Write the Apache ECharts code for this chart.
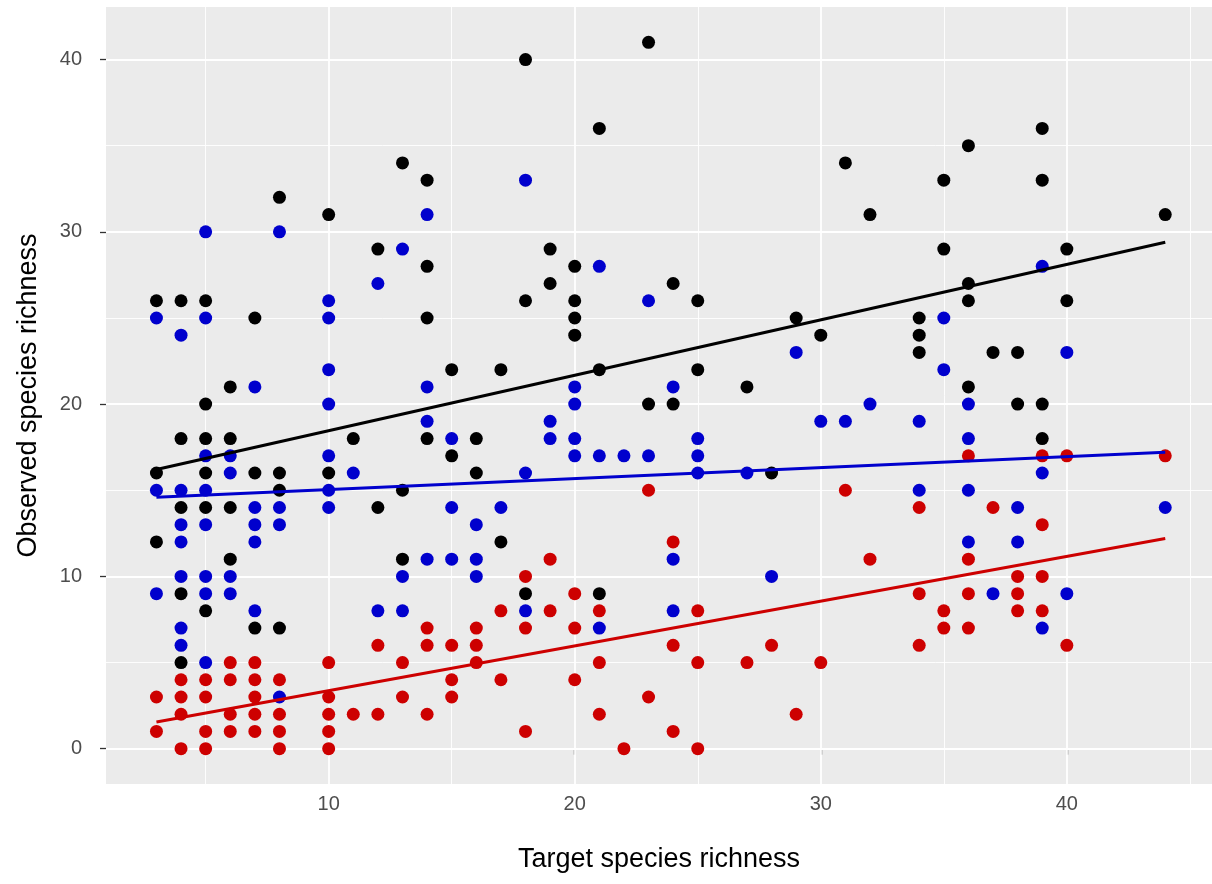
<!DOCTYPE html>
<html>
<head>
<meta charset="utf-8">
<script src="https://cdn.jsdelivr.net/npm/echarts@6/dist/echarts.min.js"></script>
<style>
  html, body { margin: 0; padding: 0; background: #ffffff; }
  #chart { width: 1212px; height: 884px; }
</style>
</head>
<body>
<div id="chart"></div>
<script>
// Axis breaks
const xTicks = [10, 20, 30, 40];
const yTicks = [0, 10, 20, 30, 40];
const xMinorTicks = [5, 15, 25, 35, 45];
const yMinorTicks = [5, 15, 25, 35];

// Observed richness per plot: [target richness, observed richness]
const blackPoints = [
  [3,26],[3,16],[3,12],
  [4,26],[4,18],[4,14],[4,9],[4,5],
  [5,26],[5,20],[5,18],[5,16],[5,14],[5,8],
  [6,21],[6,18],[6,14],[6,11],
  [7,25],[7,16],[7,7],
  [8,32],[8,16],[8,15],[8,7],
  [10,31],[10,16],
  [11,18],
  [12,29],[12,14],
  [13,34],[13,15],[13,11],
  [14,33],[14,28],[14,25],[14,18],
  [15,22],[15,17],
  [16,18],[16,16],
  [17,22],[17,12],
  [18,40],[18,26],[18,9],
  [19,29],[19,27],
  [20,28],[20,26],[20,25],[20,24],
  [21,36],[21,22],[21,9],
  [23,41],[23,20],
  [24,27],[24,20],
  [25,26],[25,22],
  [27,21],[28,16],[29,25],[30,24],[31,34],[32,31],
  [34,25],[34,24],[34,23],
  [35,33],[35,29],
  [36,35],[36,27],[36,26],[36,21],
  [37,23],
  [38,23],[38,20],
  [39,36],[39,33],[39,20],[39,18],
  [40,29],[40,26],
  [44,31]
];

const bluePoints = [
  [3,25],[3,15],[3,9],
  [4,24],[4,15],[4,13],[4,12],[4,10],[4,7],[4,6],
  [5,30],[5,25],[5,17],[5,15],[5,13],[5,10],[5,9],[5,5],
  [6,17],[6,16],[6,10],[6,9],
  [7,21],[7,14],[7,13],[7,12],[7,8],
  [8,30],[8,14],[8,13],[8,3],
  [10,26],[10,25],[10,22],[10,20],[10,17],[10,15],[10,14],
  [11,16],
  [12,27],[12,8],
  [13,29],[13,10],[13,8],
  [14,31],[14,21],[14,19],[14,11],
  [15,18],[15,14],[15,11],
  [16,13],[16,11],[16,10],
  [17,14],
  [18,33],[18,16],[18,8],
  [19,19],[19,18],
  [20,21],[20,20],[20,18],[20,17],
  [21,28],[21,17],[21,7],
  [22,17],
  [23,26],[23,17],
  [24,21],[24,11],[24,8],
  [25,18],[25,17],[25,16],
  [27,16],[28,10],[29,23],[30,19],[31,19],[32,20],
  [34,19],[34,15],
  [35,25],[35,22],
  [36,20],[36,18],[36,15],[36,12],
  [37,9],
  [38,14],[38,12],
  [39,28],[39,16],[39,7],
  [40,23],[40,9],
  [44,14]
];

const redPoints = [
  [3,3],[3,1],
  [4,4],[4,3],[4,2],[4,0],
  [5,4],[5,3],[5,1],[5,0],
  [6,5],[6,4],[6,2],[6,1],
  [7,5],[7,4],[7,3],[7,2],[7,1],
  [8,4],[8,2],[8,1],[8,0],
  [10,5],[10,3],[10,2],[10,1],[10,0],
  [11,2],
  [12,6],[12,2],
  [13,5],[13,3],
  [14,7],[14,6],[14,2],
  [15,6],[15,4],[15,3],
  [16,7],[16,6],[16,5],
  [17,8],[17,4],
  [18,10],[18,7],[18,1],
  [19,11],[19,8],
  [20,9],[20,7],[20,4],
  [21,8],[21,5],[21,2],
  [22,0],
  [23,15],[23,3],
  [24,12],[24,6],[24,1],
  [25,8],[25,5],[25,0],
  [27,5],[28,6],[29,2],[30,5],[31,15],[32,11],
  [34,14],[34,9],[34,6],
  [35,8],[35,7],
  [36,17],[36,11],[36,9],[36,7],
  [37,14],
  [38,10],[38,9],[38,8],
  [39,17],[39,13],[39,10],[39,8],
  [40,17],[40,6],
  [44,17]
];

// Linear trend lines, endpoints at the ends of the target range
const blackTrend = [[3, 16.2], [44, 29.4]];
const blueTrend = [[3, 14.6], [44, 17.2]];
const redTrend = [[3, 1.55], [44, 12.2]];

const BLACK = '#000000';
const BLUE = '#0000cd';
const RED = '#cd0000';
const FONT = '"Liberation Sans", Arial, sans-serif';

const chart = echarts.init(document.getElementById('chart'), null, { renderer: 'canvas' });

function gridLines(axisKey, values, width) {
  return values.map(v => ({ [axisKey]: v, lineStyle: { color: '#ffffff', width: width, type: 'solid' } }));
}

function scatter(name, data, color) {
  return {
    name: name,
    type: 'scatter',
    data: data,
    symbol: 'circle',
    symbolSize: 13,
    itemStyle: { color: color, opacity: 1 },
    z: 3,
    silent: true,
    animation: false
  };
}

function trend(name, data, color) {
  return {
    name: name,
    type: 'line',
    data: data,
    showSymbol: false,
    symbol: 'none',
    lineStyle: { color: color, width: 3 },
    z: 5,
    silent: true,
    animation: false
  };
}

const option = {
  backgroundColor: '#ffffff',
  animation: false,
  textStyle: { fontFamily: FONT },
  grid: {
    left: 106, right: 0, top: 7, bottom: 100,
    show: true, backgroundColor: '#ebebeb', borderWidth: 0
  },
  xAxis: {
    type: 'value',
    min: 0.95, max: 45.9,
    axisLine: { show: false },
    axisTick: { show: true, customValues: xTicks, length: 6, lineStyle: { color: '#333333', width: 1.3 } },
    axisLabel: { customValues: xTicks, color: '#4d4d4d', fontSize: 20, margin: 10, fontFamily: FONT },
    splitLine: { show: false },
    name: 'Target species richness',
    nameLocation: 'middle',
    nameGap: 62,
    nameTextStyle: { color: '#000000', fontSize: 27, fontFamily: FONT }
  },
  yAxis: {
    type: 'value',
    min: -2.05, max: 43.05,
    axisLine: { show: false },
    axisTick: { show: true, customValues: yTicks, length: 6, lineStyle: { color: '#333333', width: 1.3 } },
    axisLabel: { customValues: yTicks, color: '#4d4d4d', fontSize: 20, margin: 24, fontFamily: FONT },
    splitLine: { show: false },
    name: 'Observed species richness',
    nameLocation: 'middle',
    nameGap: 64,
    nameTextStyle: { color: '#000000', fontSize: 27, fontFamily: FONT }
  },
  series: [
    {
      name: 'grid',
      type: 'scatter',
      data: [],
      z: 1,
      silent: true,
      animation: false,
      markLine: {
        z: 1,
        silent: true,
        animation: false,
        symbol: ['none', 'none'],
        label: { show: false },
        emphasis: { disabled: true },
        data: [].concat(
          gridLines('xAxis', xMinorTicks, 0.9),
          gridLines('yAxis', yMinorTicks, 0.9),
          gridLines('xAxis', xTicks, 1.8),
          gridLines('yAxis', yTicks, 1.8)
        )
      }
    },
    scatter('black', blackPoints, BLACK),
    scatter('blue', bluePoints, BLUE),
    scatter('red', redPoints, RED),
    trend('black fit', blackTrend, BLACK),
    trend('blue fit', blueTrend, BLUE),
    trend('red fit', redTrend, RED)
  ]
};

chart.setOption(option);
</script>
</body>
</html>
